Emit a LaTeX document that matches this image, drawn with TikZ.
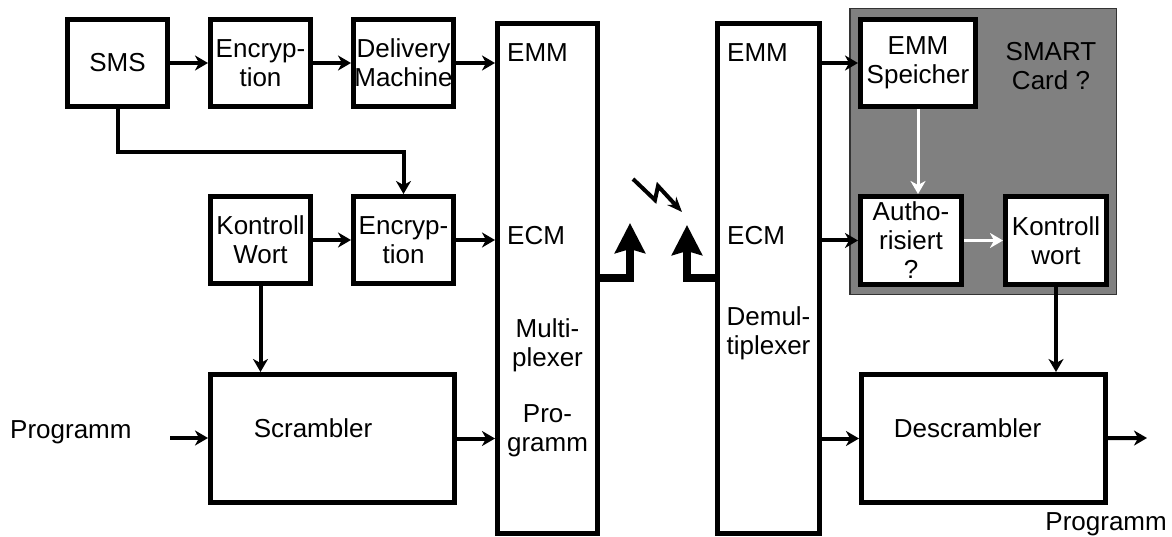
\documentclass[tikz,border=0pt]{standalone}
\usepackage{fontspec}
\setmainfont{Liberation Sans}
\usetikzlibrary{arrows.meta,positioning}

\begin{document}
\begin{tikzpicture}[
  x=1pt, y=-1pt,
  every node/.style={font={\fontsize{26}{29}\selectfont}, inner sep=0pt},
  box/.style={draw, line width=5pt, align=center, minimum width=100pt, minimum height=87pt},
  bigbox/.style={draw, line width=5pt, minimum width=244pt, minimum height=128pt},
  bus/.style={draw, line width=5pt, minimum width=100pt, minimum height=510pt},
  cardbox/.style={box, fill=white, minimum width=101pt, minimum height=88pt},
  arr/.style={-{Stealth[length=13pt,width=15pt,inset=4pt]}, line width=4pt},
  warr/.style={-{Stealth[length=13pt,width=15pt,inset=4pt]}, line width=3pt, white},
  feed/.style={-{Stealth[length=30pt,width=30pt,inset=4pt]}, line width=8pt},
  node distance=85pt and 38pt
]
\useasboundingbox (0,0) rectangle (1172,537);

% sender side
\node[box] (sms) at (117.5,63) {SMS};
\node[box, right=of sms] (enc1) {Encryp-\\tion};
\node[box, right=of enc1] (deliv) {Delivery\\Machine};
\node[box, below=of enc1] (kwort) {Kontroll\\Wort};
\node[box, right=of kwort] (enc2) {Encryp-\\tion};
\node[bigbox] (scr) at (332.5,438.5) {\raisebox{10pt}[\height][\depth]{Scrambler}\hspace*{39pt}};
\node[anchor=base west] (progin) at (10,438) {Programm};
\coordinate (pin) at (170,438);

\node[bus] (mux) at (547.5,278.5) {};
\node[anchor=base west] (muxemm) at (507,62) {EMM};
\node[anchor=base west] (muxecm) at (507,245) {ECM};
\node[align=center] (muxname) at (547.5,345) {Multi-\\plexer};
\node[align=center] (muxprog) at (547.5,431) {Pro-\\gramm};

% receiver side
\node[bus, minimum width=102pt] (demux) at (768.5,278.5) {};
\node[anchor=base west] (dmxemm) at (727,62) {EMM};
\node[anchor=base west] (dmxecm) at (727,245) {ECM};
\node[align=center] (dmxname) at (768.5,333) {Demul-\\tiplexer};

\node[draw=black!80, line width=1.5pt, fill=black!50, minimum width=266.5pt, minimum height=285.5pt] (card) at (983,151.5) {};
\node[align=center] (cardname) at (1051,66) {SMART\\Card ?};
\node[cardbox, minimum width=115pt, minimum height=87pt] (emmsp) at (918,63) {EMM\\Speicher};
\node[cardbox] (auth) at (911,240.5) {Autho-\\risiert\\?};
\node[cardbox, right=39pt of auth] (kwort2) {Kontroll\\wort};

\node[bigbox] (descr) at (983.5,438.5) {\raisebox{10pt}[\height][\depth]{Descrambler}\hspace*{32pt}};
\node[anchor=base east] (progout) at (1167,530) {Programm};
\coordinate (pout) at (1147,438);

% antennas
\coordinate (txant) at (630,223);
\coordinate (rxant) at (687,225);

\draw[arr] (sms) -- (enc1);
\draw[arr] (enc1) -- (deliv);
\draw[arr] (deliv) -- (deliv -| mux.west);
\draw[arr] (sms.south) -- ++(0,43) -| (enc2.north);
\draw[arr] (kwort) -- (enc2);
\draw[arr] (enc2) -- (enc2 -| mux.west);
\draw[arr] (kwort.south) -- (kwort.south |- scr.north);
\draw[arr] (pin) -- (pin -| scr.west);
\draw[arr] (scr) -- (scr -| mux.west);

% over the air
\draw[feed] (mux.east) -| (txant);
\draw[feed] (demux.west) -| (rxant);
\draw[line width=4pt, -{Stealth[length=15pt,width=12pt]}] (633,179) -- (655,200) -- (658,186) -- (682,212);

\draw[arr] (emmsp -| demux.east) -- (emmsp);
\draw[arr] (auth -| demux.east) -- (auth);
\draw[arr] (descr -| demux.east) -- (descr);
\draw[warr] (emmsp.south) -- (emmsp.south |- auth.north);
\draw[warr] (auth) -- (kwort2);
\draw[arr] (kwort2.south) -- (kwort2.south |- descr.north);
\draw[arr] (descr) -- (pout);
\end{tikzpicture}
\end{document}
